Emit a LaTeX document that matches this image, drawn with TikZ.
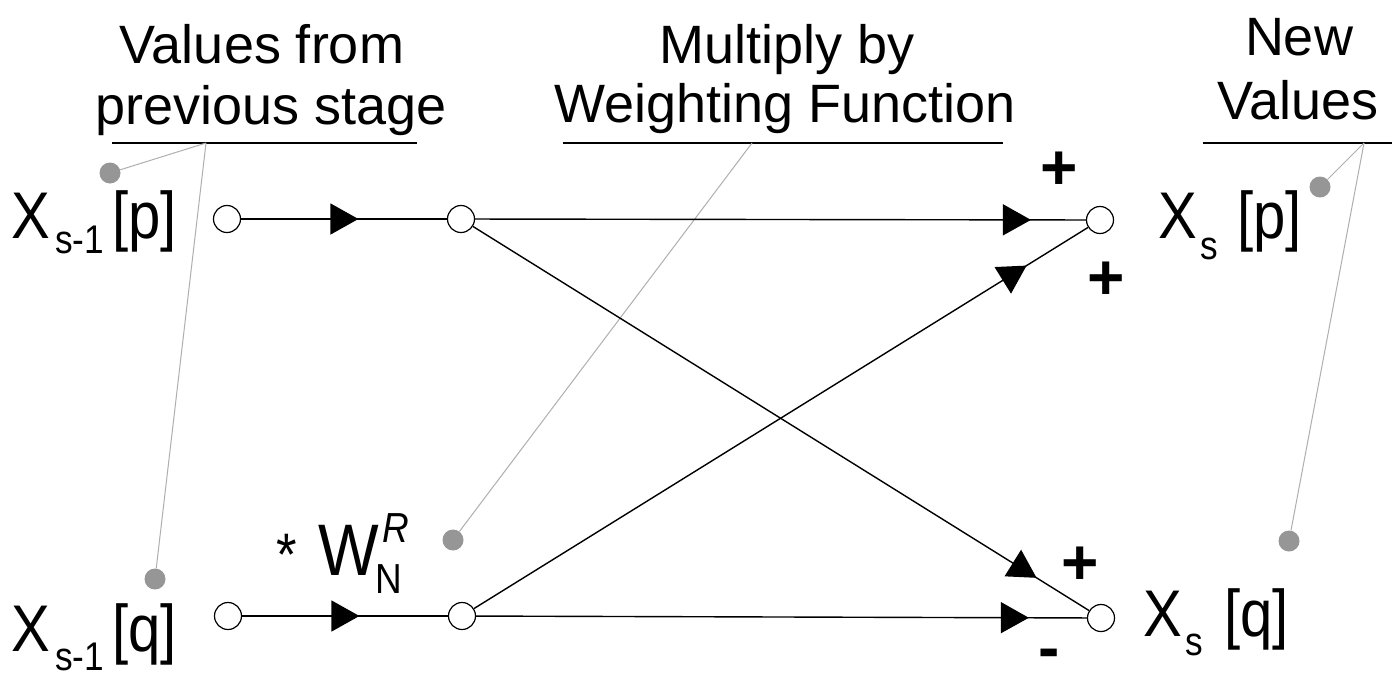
\documentclass[tikz,border=0pt]{standalone}
\usepackage{fontspec}
\setmainfont{Liberation Sans}
\newfontfamily\lbl[FakeStretch=0.88]{Liberation Sans}
\usetikzlibrary{arrows.meta,decorations.markings}
\definecolor{dotgray}{RGB}{150,150,150}
\definecolor{leadgray}{RGB}{175,175,175}
\tikzset{
  junc/.style={circle,draw,line width=1.2pt,minimum size=27pt,inner sep=0pt,fill=white},
  gdot/.style={circle,fill=dotgray,minimum size=21pt,inner sep=0pt},
  lead/.style={leadgray,line width=1pt},
  uline/.style={line width=1.8pt},
  flow/.style={line width=1.4pt},
  arrowat/.style={postaction={decorate},decoration={markings,mark=at position #1 with {\arrow{Triangle[length=28pt,width=31pt]}}}},
  hdr/.style={font=\fontsize{54}{62}\selectfont,anchor=base,inner sep=0pt},
  big/.style={font=\lbl\fontsize{66}{66}\selectfont,anchor=base west,inner sep=0pt},
  subs/.style={font=\lbl\fontsize{40}{40}\selectfont,anchor=base west,inner sep=0pt},
  supit/.style={font=\lbl\itshape\fontsize{42}{42}\selectfont,anchor=base west,inner sep=0pt},
  sgn/.style={font=\bfseries\fontsize{64}{64}\selectfont,anchor=base,inner sep=0pt,text depth=0pt},
}
\begin{document}
\begin{tikzpicture}[x=1pt,y=-1pt]
\useasboundingbox[fill=white] (0,0) rectangle (1392,675);

% headers
\node[hdr] (h1a) at (262,63) {Values from};
\node[hdr] (h1b) at (271,124) {previous stage};
\node[hdr] (h2a) at (787,63) {Multiply by};
\node[hdr] (h2b) at (785,122) {Weighting Function};
\node[hdr] (h3a) at (1299,55) {New};
\node[hdr] (h3b) at (1298,119) {Values};

% underlines
\coordinate (ulA1) at (112,143); \coordinate (ulA2) at (417,143);
\coordinate (ulB1) at (563,143); \coordinate (ulB2) at (1003,143);
\coordinate (ulC1) at (1203,143); \coordinate (ulC2) at (1392,143);
\draw[uline] (ulA1) -- (ulA2);
\draw[uline] (ulB1) -- (ulB2);
\draw[uline] (ulC1) -- (ulC2);
\coordinate (apA) at (206,143);
\coordinate (apB) at (752,143);
\coordinate (apC) at (1364,143);

% gray dots
\node[gdot] (d1) at (110,173) {};
\node[gdot] (d2) at (155,579) {};
\node[gdot] (d3) at (453,540) {};
\node[gdot] (d4) at (1320,187) {};
\node[gdot] (d5) at (1289,541) {};
\draw[lead] (apA) -- (d1);
\draw[lead] (apA) -- (d2);
\draw[lead] (apB) -- (d3);
\draw[lead] (apC) -- (d4);
\draw[lead] (apC) -- (d5);

% junctions
\node[junc] (a1) at (227,219) {};
\node[junc] (b1) at (461,219) {};
\node[junc] (c1) at (1100,220) {};
\node[junc] (a2) at (228,616) {};
\node[junc] (b2) at (462,616) {};
\node[junc] (c2) at (1101,618) {};

% connectors
\draw[flow,arrowat=0.57] (a1) -- (b1);
\draw[flow,arrowat=0.91] (b1) -- (c1);
\draw[flow,arrowat=0.57] (a2) -- (b2);
\draw[flow,arrowat=0.905] (b2) -- (c2);
\draw[flow,arrowat=0.915] (b1) -- (c2);
\draw[flow,arrowat=0.90] (b2) -- (c1);

% labels left
\node[big] (xp) at (11,238) {X};
\node[subs] (xps) at (55,253) {s-1};
\node[big] (xpb) at (112,238) {[p]};
\node[big] (xq) at (11,651) {X};
\node[subs] (xqs) at (55,670) {s-1};
\node[big] (xqb) at (112,651) {[q]};

% labels right
\node[big] (yp) at (1158,238) {X};
\node[subs] (yps) at (1200,259) {s};
\node[big] (ypb) at (1237,238) {[p]};
\node[big] (yq) at (1143,636) {X};
\node[subs] (yqs) at (1185,655) {s};
\node[big] (yqb) at (1224,636) {[q]};

% weighting
\node[big,font=\lbl\fontsize{60}{60}\selectfont] (star) at (276,575) {*};
\node[big,font=\lbl\fontsize{73}{73}\selectfont] (w) at (318,575) {W};
\node[supit] (wr) at (382,542) {R};
\node[subs,font=\lbl\fontsize{42}{42}\selectfont] (wn) at (375,593) {N};

% signs
\node[sgn] (s1) at (1059,189) {+};
\node[sgn] (s2) at (1106,299) {+};
\node[sgn] (s3) at (1080,584) {+};
\node[sgn] (s4) at (1049,669) {-};
\end{tikzpicture}
\end{document}
